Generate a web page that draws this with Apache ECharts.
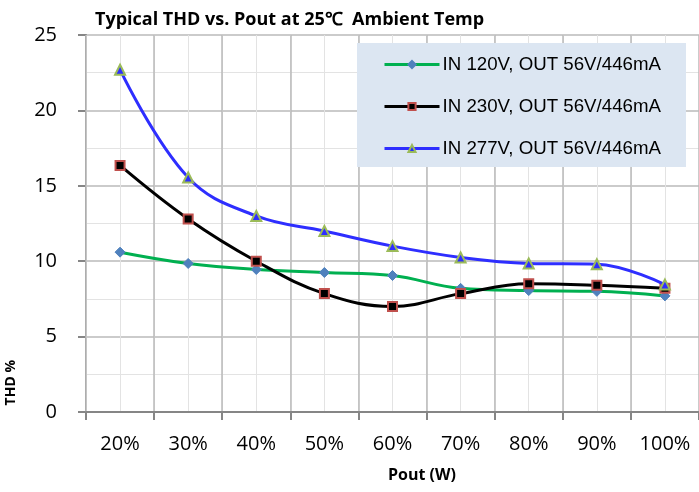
<!DOCTYPE html>
<html>
<head>
<meta charset="utf-8">
<script src="https://cdn.jsdelivr.net/npm/echarts@6/dist/echarts.min.js"></script>
<style>
  html, body { margin: 0; padding: 0; background: #fff; }
  #chart { width: 699px; height: 492px; }
</style>
</head>
<body>
<div id="chart"></div>
<script>
const categories = ['20%', '30%', '40%', '50%', '60%', '70%', '80%', '90%', '100%'];
const in120 = [10.6, 9.85, 9.45, 9.25, 9.05, 8.2, 8.05, 8.0, 7.7];
const in230 = [16.35, 12.8, 10.0, 7.85, 7.0, 7.85, 8.5, 8.4, 8.2];
const in277 = [22.7, 15.55, 13.0, 12.0, 11.0, 10.25, 9.85, 9.8, 8.45];
const yTicks = [0, 5, 10, 15, 20, 25];

const font = "'Liberation Sans Narrow', 'Open Sans', sans-serif";
const chart = echarts.init(document.getElementById('chart'));

chart.setOption({
  backgroundColor: '#fff',
  animation: false,
  title: {
    text: 'Typical THD vs. Pout at 25℃  Ambient Temp',
    left: 90,
    top: 6,
    textStyle: { fontFamily: font, fontWeight: 'bold', fontSize: 18, color: '#000' }
  },
  legend: {
    orient: 'vertical',
    left: 357,
    top: 43,
    padding: [12, 25, 9, 26],
    itemGap: 23,
    itemWidth: 55,
    itemHeight: 9,
    backgroundColor: '#dce6f2',
    lineStyle: { width: 3 },
    textStyle: { fontFamily: 'Liberation Sans, Arial, sans-serif', fontSize: 18.7, color: '#000', padding: [0, 0, 0, -2] }
  },
  grid: { left: 86, top: 35, width: 616, bottom: 80 },
  xAxis: [
    {
      type: 'category',
      data: categories,
      boundaryGap: true,
      axisLine: { lineStyle: { color: '#868686', width: 2 } },
      axisTick: { show: true, length: 8, lineStyle: { color: '#868686', width: 2 } },
      splitLine: { show: true, lineStyle: { color: '#bababa', width: 1.5 } },
      axisLabel: { fontFamily: font, fontSize: 20, color: '#000', margin: 22 },
      z: 3
    },
    {
      type: 'value',
      min: 0,
      max: categories.length * 2,
      interval: 1,
      show: true,
      axisLine: { show: false },
      axisTick: { show: false },
      axisLabel: { show: false },
      splitLine: { show: true, lineStyle: { color: '#e3e3e3', width: 1 } },
      position: 'bottom',
      z: 1
    }
  ],
  yAxis: {
    type: 'value',
    min: yTicks[0],
    max: yTicks[yTicks.length - 1],
    interval: 5,
    axisLine: { show: true, lineStyle: { color: '#868686', width: 2 } },
    axisTick: { show: true, length: 8, lineStyle: { color: '#868686', width: 2 } },
    axisLabel: { fontFamily: font, fontSize: 20, color: '#000', margin: 29 },
    splitLine: { show: true, lineStyle: { color: '#bababa', width: 1.5 } },
    minorTick: { show: false, splitNumber: 2 },
    minorSplitLine: { show: true, lineStyle: { color: '#e3e3e3', width: 1 } }
  },
  graphic: [
    {
      type: 'text',
      left: 4,
      top: 360,
      rotation: Math.PI / 2,
      style: { text: 'THD %', fontFamily: font, fontWeight: 'bold', fontSize: 14, fill: '#000' }
    },
    {
      type: 'text',
      left: 388,
      top: 467,
      style: { text: 'Pout (W)', fontFamily: font, fontWeight: 'bold', fontSize: 16, fill: '#000' }
    }
  ],
  series: [
    {
      name: 'IN 120V, OUT 56V/446mA',
      type: 'line',
      data: in120,
      smooth: 0.4,
      symbol: 'diamond',
      symbolSize: 10,
      lineStyle: { color: '#00b050', width: 3 },
      itemStyle: { color: '#4f81bd', borderColor: '#4f81bd', borderWidth: 1 },
      color: '#00b050',
      z: 4
    },
    {
      name: 'IN 230V, OUT 56V/446mA',
      type: 'line',
      data: in230,
      smooth: 0.4,
      symbol: 'rect',
      symbolSize: 9,
      lineStyle: { color: '#000', width: 3 },
      itemStyle: { color: '#000', borderColor: '#c0504d', borderWidth: 2 },
      color: '#000',
      z: 5
    },
    {
      name: 'IN 277V, OUT 56V/446mA',
      type: 'line',
      data: in277,
      smooth: 0.4,
      symbol: 'triangle',
      symbolSize: 10,
      lineStyle: { color: '#2e2eff', width: 3 },
      itemStyle: { color: '#2e2eff', borderColor: '#9bbb59', borderWidth: 2 },
      color: '#2e2eff',
      z: 6
    }
  ]
});
</script>
</body>
</html>
